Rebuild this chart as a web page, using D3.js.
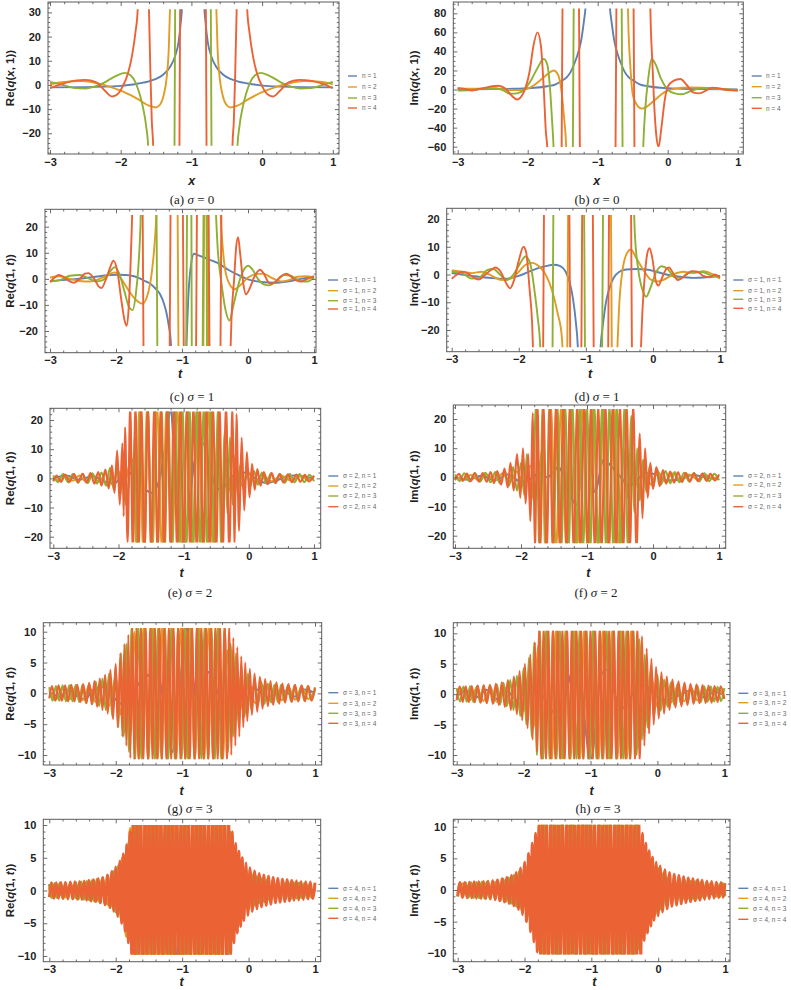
<!DOCTYPE html>
<html>
<head>
<meta charset="utf-8">
<script src="https://cdn.jsdelivr.net/npm/d3@7"></script>
<style>
  body { margin: 0; background: #fff; }
  svg { display: block; }
</style>
</head>
<body>
<svg id="fig" width="791" height="990"></svg>
<script>
// ---- data: [t, value], null = curve leaves the plot range ----

// (a) Re q(x,1), sigma = 0
const aN1 = [[-3,-1],[-2.5,-0.9],[-2,-0.4],[-1.75,0.6],[-1.6,1.5],[-1.5,2.5],[-1.4,4.2],[-1.3,7.5],[-1.23,12],[-1.18,18],[-1.15,26],[-1.13,34],[-1.11,60],null,[-0.84,60],[-0.82,34],[-0.8,26],[-0.77,18],[-0.72,12],[-0.65,7.5],[-0.55,4.2],[-0.45,2.5],[-0.35,1.5],[-0.2,0.6],[0.05,-0.4],[0.55,-0.9],[1,-1]];
const aN2 = [[-3,0.3],[-2.8,1.2],[-2.55,1.6],[-2.35,0.8],[-2.15,-0.8],[-1.95,-3],[-1.75,-6],[-1.6,-8.6],[-1.5,-9.3],[-1.44,-8],[-1.39,-4],[-1.35,3],[-1.32,15],[-1.3,34],[-1.28,60],null,[-0.67,60],[-0.65,34],[-0.63,15],[-0.6,3],[-0.56,-4],[-0.51,-8],[-0.45,-9.3],[-0.35,-8.6],[-0.2,-6],[0,-3],[0.2,-0.8],[0.4,0.8],[0.6,1.6],[0.85,1.2],[1,0.3]];
const aN3 = [[-3,1.2],[-2.85,0.3],[-2.65,-1.3],[-2.5,-1.5],[-2.35,-0.5],[-2.2,1.5],[-2.05,4],[-1.94,5],[-1.86,4],[-1.79,1],[-1.73,-4],[-1.68,-10],[-1.64,-17],[-1.61,-26],[-1.59,-60],null,[-1.245,-60],[-1.225,60],null,[-0.73,60],[-0.71,-60],null,[-0.37,-60],[-0.35,-26],[-0.32,-17],[-0.28,-10],[-0.23,-4],[-0.17,1],[-0.1,4],[-0.02,5],[0.09,4],[0.24,1.5],[0.39,-0.5],[0.54,-1.5],[0.69,-1.3],[0.89,0.3],[1,1.2]];
const aN4 = [[-3,-1.3],[-2.85,0.2],[-2.65,1.8],[-2.5,2.1],[-2.35,1.2],[-2.22,-2.5],[-2.12,-4.8],[-2.05,-4],[-1.97,-0.5],[-1.9,4.5],[-1.84,12],[-1.79,22],[-1.76,31],[-1.74,60],null,[-1.62,60],[-1.6,31],[-1.58,5],[-1.56,-15],[-1.54,-26],[-1.53,-60],null,[-1.175,-60],[-1.155,60],null,[-0.8,60],[-0.78,-60],null,[-0.43,-60],[-0.42,-26],[-0.4,-15],[-0.38,5],[-0.36,31],[-0.34,60],null,[-0.23,60],[-0.21,31],[-0.18,22],[-0.13,12],[-0.07,4.5],[0,-0.5],[0.08,-4],[0.15,-4.8],[0.25,-2.5],[0.38,1.2],[0.53,2.1],[0.68,1.8],[0.88,0.2],[1,-1.3]];

// (b) Im q(x,1), sigma = 0
const bN1 = [[-3,0.2],[-2.5,0.4],[-2.2,0.8],[-1.9,1.8],[-1.72,3.5],[-1.6,5.5],[-1.53,8.5],[-1.44,13],[-1.39,18],[-1.34,26],[-1.29,36],[-1.24,50],[-1.2,70],[-1.17,90],[-1.15,120],null,[-0.85,120],[-0.83,90],[-0.8,70],[-0.76,50],[-0.71,36],[-0.66,26],[-0.61,18],[-0.56,13],[-0.47,8.5],[-0.4,5.5],[-0.28,3.5],[-0.1,1.8],[0.2,0.8],[0.5,0.4],[1,0.2]];
const bN2 = [[-3,1.5],[-2.8,0.8],[-2.6,1.2],[-2.4,0.5],[-2.25,-0.5],[-2.1,-0.5],[-2,1],[-1.9,5],[-1.8,11],[-1.7,17],[-1.63,20],[-1.57,16],[-1.52,0],[-1.48,-30],[-1.45,-62],[-1.43,-120],null,[-0.58,120],[-0.56,62],[-0.53,20],[-0.5,-5],[-0.45,-15],[-0.37,-20],[-0.3,-18],[-0.2,-12],[-0.05,-3],[0.1,1],[0.3,2.2],[0.5,2],[0.7,0.8],[0.85,0],[1,-0.5]];
const bN3 = [[-3,-1],[-2.8,-0.5],[-2.6,1.2],[-2.45,1.5],[-2.35,-1],[-2.25,-4.5],[-2.15,-4],[-2.05,0],[-1.95,10],[-1.85,24],[-1.77,32],[-1.72,26],[-1.68,0],[-1.65,-35],[-1.63,-62],[-1.61,-120],null,[-1.36,-120],[-1.34,120],null,[-0.66,120],[-0.64,-120],null,[-0.37,-120],[-0.35,-62],[-0.32,-20],[-0.28,10],[-0.23,32],[-0.17,26],[-0.1,12],[0,0],[0.1,-4],[0.2,-5],[0.32,-2],[0.45,1],[0.6,1.5],[0.75,0.5],[1,-1]];
const bN4 = [[-3,1.5],[-2.9,0.5],[-2.8,-1],[-2.7,0.5],[-2.6,2],[-2.5,3.5],[-2.42,4],[-2.32,1],[-2.22,-7],[-2.15,-10.5],[-2.08,-6],[-2.03,2],[-1.97,20],[-1.92,45],[-1.86,60],[-1.81,45],[-1.77,0],[-1.74,-45],[-1.72,-62],[-1.7,-120],null,[-1.52,-120],[-1.5,120],null,[-1.27,120],[-1.25,-120],null,[-0.75,-120],[-0.73,120],null,[-0.49,120],[-0.47,-120],null,[-0.26,120],[-0.24,62],[-0.22,30],[-0.19,-20],[-0.16,-50],[-0.13,-60],[-0.09,-40],[-0.04,-10],[0,3],[0.08,9],[0.18,11],[0.27,5],[0.36,-3],[0.45,-4],[0.55,-1],[0.63,2],[0.72,1.5],[0.85,-0.5],[1,-1]];

// (c) Re q(1,t), sigma = 1
const cN1 = [[-3,-0.8],[-2.7,-0.3],[-2.4,0.5],[-2.2,1.2],[-2,1.6],[-1.85,1.5],[-1.74,1.1],[-1.64,0.2],[-1.55,-1],[-1.48,-1.9],[-1.4,-3.8],[-1.33,-6],[-1.28,-9],[-1.24,-12.5],[-1.2,-18],[-1.17,-24],[-1.15,-40],null,[-0.95,-40],[-0.93,-24],[-0.9,-5],[-0.86,6],[-0.82,9.6],[-0.75,9],[-0.6,7.5],[-0.47,6.2],[-0.3,3.5],[-0.15,1.5],[0,-0.2],[0.2,-1.2],[0.4,-1.5],[0.6,-1],[0.8,0],[1,0.8]];
const cN2 = [[-3,0.5],[-2.85,1],[-2.7,0],[-2.55,-0.8],[-2.4,-1],[-2.25,0],[-2.12,1.5],[-2.02,2.5],[-1.92,0],[-1.82,-4],[-1.7,-8],[-1.6,-9.5],[-1.52,-6],[-1.46,2],[-1.42,12],[-1.39,24],[-1.37,40],null,[-1.07,40],[-1.05,-40],null,[-0.68,-40],[-0.66,40],null,[-0.61,40],[-0.6,-40],null,[-0.44,40],[-0.4,18],[-0.36,6],[-0.3,-1],[-0.2,-4],[-0.12,-2.5],[0,0.5],[0.12,1.8],[0.23,2],[0.35,0.5],[0.5,-1],[0.62,-0.5],[0.75,0.8],[0.88,1],[1,0.5]];
const cN3 = [[-3,-1],[-2.85,-0.5],[-2.7,1.2],[-2.55,1.5],[-2.4,0],[-2.3,-1],[-2.2,-0.5],[-2.1,2.5],[-2.02,4.5],[-1.95,2],[-1.87,-5],[-1.8,-11],[-1.75,-12],[-1.7,-6],[-1.66,5],[-1.63,20],[-1.61,40],null,[-1.39,40],[-1.37,-40],null,[-0.94,-40],[-0.92,40],null,[-0.86,40],[-0.85,-40],null,[-0.69,-40],[-0.67,40],null,[-0.63,40],[-0.62,-40],null,[-0.51,40],[-0.46,12],[-0.4,-2],[-0.34,-12],[-0.28,-16],[-0.22,-10],[-0.12,0],[-0.05,4],[0,5],[0.07,3.5],[0.15,0],[0.25,-2.2],[0.32,-2.5],[0.42,-1],[0.55,1.5],[0.65,1.2],[0.78,-0.8],[0.9,-1],[1,0.5]];
const cN4 = [[-3,-1.2],[-2.93,0.5],[-2.87,1.5],[-2.78,0.5],[-2.7,-1],[-2.64,-1.5],[-2.55,0],[-2.47,2],[-2.42,2.2],[-2.33,0],[-2.26,-3],[-2.22,-3.5],[-2.15,0],[-2.08,5],[-2.04,7],[-1.98,3],[-1.92,-8],[-1.87,-16],[-1.84,-18],[-1.81,-12],[-1.78,5],[-1.76,20],[-1.74,40],null,[-1.6,40],[-1.58,-40],null,[-1.19,-40],[-1.17,40],null,[-0.99,40],[-0.97,-40],null,[-0.79,-40],[-0.77,40],null,[-0.6,40],[-0.58,-40],null,[-0.42,-40],[-0.4,40],null,[-0.28,-40],[-0.25,-15],[-0.21,0],[-0.18,12],[-0.15,16],[-0.12,10],[-0.07,-2],[-0.03,-6],[0.02,-4],[0.1,1],[0.18,3.5],[0.24,2],[0.3,-1],[0.35,-2],[0.42,-1],[0.5,1],[0.58,2],[0.65,1],[0.72,-0.5],[0.8,-1],[0.9,0],[1,1]];

// (d) Im q(1,t), sigma = 1
const dN1 = [[-3,0.5],[-2.7,-0.5],[-2.4,-1.3],[-2.2,-1.5],[-2,-0.5],[-1.8,1.5],[-1.6,3],[-1.48,3.5],[-1.38,3],[-1.3,1],[-1.24,-3],[-1.19,-9],[-1.15,-17],[-1.12,-26],[-1.1,-40],null,[-0.81,-40],[-0.78,-26],[-0.74,-17],[-0.7,-10],[-0.65,-5],[-0.58,-1],[-0.5,1],[-0.4,1.8],[-0.25,2],[-0.1,1.8],[0.05,1],[0.2,0],[0.4,-0.8],[0.6,-1.2],[0.8,-1],[1,-0.5]];
const dN2 = [[-3,1.5],[-2.85,1],[-2.7,0.5],[-2.55,1],[-2.4,-0.5],[-2.25,-2],[-2.12,-1.5],[-2,1],[-1.9,3.5],[-1.8,4.2],[-1.7,3],[-1.6,0],[-1.5,-6],[-1.42,-14],[-1.36,-22],[-1.32,-40],null,[-1.28,-40],[-1.26,40],null,[-0.63,40],[-0.61,-40],null,[-0.55,-40],[-0.5,-10],[-0.45,2],[-0.38,8],[-0.33,9],[-0.25,6],[-0.15,2],[-0.05,-1.5],[0.05,-2.5],[0.15,-2],[0.3,0],[0.45,1],[0.6,0.5],[0.75,1.2],[0.9,0],[1,-1.5]];
const dN3 = [[-3,1],[-2.85,0.5],[-2.7,-1.5],[-2.58,-1],[-2.48,1.5],[-2.38,2],[-2.28,0],[-2.18,-2],[-2.08,0],[-1.98,4],[-1.9,6.5],[-1.83,4],[-1.77,-5],[-1.72,-15],[-1.68,-26],[-1.66,-40],null,[-1.5,-40],[-1.48,40],null,[-1.03,40],[-1.01,-40],null,[-0.76,-40],[-0.74,40],null,[-0.3,40],[-0.27,15],[-0.22,2],[-0.15,-6],[-0.1,-8],[-0.04,-5],[0.05,1],[0.13,3],[0.22,2],[0.32,-1],[0.42,-1.2],[0.52,0.5],[0.62,1],[0.75,0.8],[0.88,-0.5],[1,-1]];
const dN4 = [[-3,-1.5],[-2.92,0],[-2.85,1],[-2.77,0.5],[-2.68,-1],[-2.6,-1.8],[-2.52,-0.5],[-2.42,1.5],[-2.35,2.5],[-2.27,1],[-2.18,-3.5],[-2.13,-5],[-2.07,-2],[-2,5],[-1.93,10],[-1.89,8],[-1.84,-5],[-1.8,-18],[-1.77,-40],null,[-1.64,-40],[-1.62,40],null,[-1.25,40],[-1.23,-40],null,[-1.07,-40],[-1.05,40],null,[-0.9,40],[-0.88,-40],null,[-0.67,-40],[-0.65,40],null,[-0.33,40],[-0.31,-40],null,[-0.2,-40],[-0.16,-15],[-0.12,0],[-0.08,8],[-0.05,9.5],[-0.01,6],[0.04,-2],[0.08,-4],[0.14,-1],[0.2,2],[0.24,2.5],[0.3,0.5],[0.37,-2],[0.42,-1.5],[0.5,0],[0.58,1.2],[0.66,1],[0.75,-0.5],[0.85,-1],[0.92,0],[1,-1]];

// (e) Re q(1,t), sigma = 2
const eN1 = [[-3,0],[-2.8,1],[-2.6,-0.5],[-2.4,0.8],[-2.2,-1.2],[-2.05,-1.5],[-1.9,2.5],[-1.75,0.5],[-1.6,-3.5],[-1.49,-5],[-1.38,-1],[-1.3,8],[-1.24,18],[-1.2,25],[-1.15,10],[-1.08,-10],[-1,-25],[-0.92,-10],[-0.84,5],[-0.76,11],[-0.7,12],[-0.62,6],[-0.52,-2],[-0.42,-4],[-0.32,-1],[-0.2,1.5],[-0.05,2],[0.1,0],[0.25,-1.5],[0.4,-1],[0.55,0.5],[0.7,1],[0.85,0.5],[1,0]];
const eN2 = [[-3,0.5],[-2.9,-0.8],[-2.8,0.8],[-2.7,-0.8],[-2.6,1],[-2.5,-1],[-2.4,1],[-2.3,-1.2],[-2.2,1.5],[-2.1,-2],[-2,2.5],[-1.92,-3],[-1.84,4],[-1.78,6.5],[-1.72,-25],[-1.68,25],[-1.62,-25],[-1.56,25],[-1.48,-25],[-1.41,25],[-1.33,-25],[-1.26,25],[-1.18,-25],[-1.1,25],[-1.02,-25],[-0.94,25],[-0.86,-25],[-0.78,25],[-0.7,-25],[-0.62,25],[-0.55,-25],[-0.48,14],[-0.42,-10],[-0.35,7],[-0.28,-5],[-0.2,3.5],[-0.1,-2.5],[0,2],[0.1,-1.5],[0.2,1.2],[0.35,-1],[0.5,1],[0.65,-0.8],[0.8,0.8],[0.9,-0.5],[1,0.5]];
const eN3 = [[-3,1],[-2.93,-1.3],[-2.85,1.5],[-2.77,-1.4],[-2.7,1.5],[-2.62,-1.5],[-2.55,1.5],[-2.47,-1.6],[-2.4,1.7],[-2.33,-1.8],[-2.26,2],[-2.19,-2.5],[-2.13,3.5],[-2.07,-4],[-2.02,5],[-1.97,-6],[-1.93,7],[-1.89,-9],[-1.85,-3],[-1.81,12],[-1.78,-10],[-1.75,16],[-1.71,-25],[-1.66,25],[-1.6,-25],[-1.55,25],[-1.49,-25],[-1.44,25],[-1.4,-25],[-1.34,25],[-1.29,-25],[-1.24,25],[-1.18,-25],[-1.13,25],[-1.07,-25],[-1.02,25],[-0.96,-25],[-0.91,25],[-0.86,-25],[-0.8,25],[-0.75,-25],[-0.69,25],[-0.64,-25],[-0.58,25],[-0.53,-25],[-0.47,25],[-0.42,-25],[-0.37,16],[-0.33,-12],[-0.29,14],[-0.25,-9],[-0.21,8],[-0.17,-6],[-0.13,5],[-0.08,-4],[-0.03,3.5],[0.02,-3],[0.08,2.5],[0.14,-2.2],[0.2,2],[0.27,-1.8],[0.34,1.7],[0.41,-1.6],[0.48,1.5],[0.55,-1.5],[0.63,1.5],[0.7,-1.4],[0.78,1.5],[0.85,-1.3],[0.93,1.2],[1,-1]];
const eN4 = [[-3,-1],[-2.95,1],[-2.88,-1.2],[-2.82,1.3],[-2.75,-1.2],[-2.68,1.5],[-2.62,-1.3],[-2.55,1.6],[-2.49,-1.5],[-2.43,1.8],[-2.37,-1.8],[-2.31,2.2],[-2.26,-2.5],[-2.2,3],[-2.15,-3.5],[-2.1,4.5],[-2.06,-5],[-2.02,9.5],[-1.98,-9],[-1.94,12],[-1.92,-13],[-1.9,17.5],[-1.86,-22],[-1.82,25],[-1.78,-25],[-1.74,25],[-1.69,-25],[-1.65,25],[-1.6,-25],[-1.55,25],[-1.5,-25],[-1.45,25],[-1.4,-25],[-1.35,25],[-1.3,-25],[-1.25,25],[-1.2,-25],[-1.15,25],[-1.1,-25],[-1.05,25],[-1,-25],[-0.95,25],[-0.9,-25],[-0.85,25],[-0.8,-25],[-0.75,25],[-0.7,-25],[-0.65,25],[-0.6,-25],[-0.55,25],[-0.5,-25],[-0.45,25],[-0.4,-25],[-0.35,25],[-0.3,-25],[-0.25,25],[-0.22,-25],[-0.19,22],[-0.15,-18],[-0.11,14],[-0.07,-11],[-0.03,9],[0.01,-6.5],[0.05,5],[0.09,-4],[0.13,3.2],[0.18,-2.5],[0.23,2.2],[0.29,-2],[0.35,1.8],[0.41,-1.6],[0.47,1.5],[0.53,-1.4],[0.6,1.4],[0.66,-1.3],[0.73,1.3],[0.79,-1.2],[0.86,1.2],[0.92,-1.1],[1,1]];

// (f) Im q(1,t), sigma = 2
const fN1 = [[-3,0],[-2.8,-0.8],[-2.6,0.5],[-2.4,-1],[-2.2,1],[-2,-1.5],[-1.85,-0.5],[-1.72,1.5],[-1.6,0],[-1.43,3.5],[-1.3,-3],[-1.16,-9.5],[-1.08,5],[-1.02,22],[-0.96,10],[-0.88,-5],[-0.75,6],[-0.6,3],[-0.45,-1],[-0.37,-3],[-0.25,-1],[-0.1,1.5],[0.05,1],[0.2,-1],[0.4,-0.8],[0.6,0.8],[0.8,0],[1,-0.5]];
const fN2 = [[-3,0.5],[-2.88,-0.8],[-2.76,0.8],[-2.64,-1],[-2.52,1],[-2.4,-1.2],[-2.28,1.3],[-2.17,-1.6],[-2.06,2],[-1.96,-3],[-1.86,4],[-1.76,-5],[-1.68,9.5],[-1.63,-25],[-1.55,25],[-1.47,-25],[-1.39,25],[-1.31,-25],[-1.23,25],[-1.15,-25],[-1.07,25],[-0.99,-25],[-0.91,25],[-0.83,-25],[-0.75,25],[-0.67,-25],[-0.59,25],[-0.52,-25],[-0.45,10],[-0.38,-7],[-0.3,5],[-0.22,-4],[-0.13,3],[-0.03,-2.5],[0.07,2],[0.18,-1.5],[0.3,1.3],[0.42,-1],[0.55,1],[0.68,-0.8],[0.8,0.8],[0.9,-0.5],[1,0.5]];
const fN3 = [[-3,1],[-2.93,-1.3],[-2.86,1.4],[-2.78,-1.4],[-2.7,1.5],[-2.62,-1.5],[-2.54,1.6],[-2.46,-1.7],[-2.39,1.8],[-2.32,-2],[-2.25,2.3],[-2.18,-2.8],[-2.12,3.5],[-2.06,-4.5],[-2,5],[-1.95,-6],[-1.91,8],[-1.86,-9],[-1.82,-4],[-1.77,25],[-1.72,-25],[-1.67,25],[-1.62,-25],[-1.57,25],[-1.51,-25],[-1.45,25],[-1.39,-25],[-1.33,25],[-1.28,-25],[-1.22,25],[-1.17,-25],[-1.11,25],[-1.06,-25],[-1,25],[-0.95,-25],[-0.89,25],[-0.83,-25],[-0.77,25],[-0.71,-25],[-0.66,25],[-0.6,-25],[-0.55,25],[-0.49,-25],[-0.43,25],[-0.38,-25],[-0.33,21],[-0.28,-12],[-0.24,10],[-0.2,-8],[-0.15,6],[-0.1,-5],[-0.05,4],[0,-3.5],[0.06,3],[0.12,-2.5],[0.19,2.2],[0.26,-2],[0.33,1.8],[0.4,-1.7],[0.47,1.6],[0.55,-1.5],[0.62,1.5],[0.7,-1.4],[0.78,1.4],[0.85,-1.3],[0.93,1.2],[1,-1]];
const fN4 = [[-3,-1],[-2.94,1.2],[-2.88,-1.2],[-2.82,1.3],[-2.76,-1.3],[-2.7,1.4],[-2.64,-1.4],[-2.58,1.5],[-2.52,-1.5],[-2.46,1.8],[-2.41,-2],[-2.36,2.2],[-2.3,-2.5],[-2.25,3],[-2.2,-3.5],[-2.16,5],[-2.11,-4.5],[-2.06,8],[-2.01,-7],[-1.97,10],[-1.93,-9],[-1.89,8],[-1.86,-15],[-1.82,22],[-1.79,-25],[-1.75,25],[-1.71,-25],[-1.66,25],[-1.61,-25],[-1.56,25],[-1.52,-25],[-1.47,25],[-1.41,-25],[-1.36,25],[-1.31,-25],[-1.26,25],[-1.2,-25],[-1.15,25],[-1.1,-25],[-1.04,25],[-0.99,-25],[-0.94,25],[-0.88,-25],[-0.83,25],[-0.78,-25],[-0.72,25],[-0.67,-25],[-0.61,25],[-0.56,-25],[-0.5,25],[-0.45,-25],[-0.4,25],[-0.35,-25],[-0.3,25],[-0.25,-25],[-0.2,15],[-0.16,-14],[-0.12,10],[-0.08,-7],[-0.04,5],[0,-4],[0.05,3.5],[0.1,-3],[0.15,2.5],[0.2,-2.2],[0.26,2],[0.32,-1.8],[0.38,1.7],[0.44,-1.6],[0.5,1.5],[0.56,-1.4],[0.62,1.4],[0.68,-1.3],[0.75,1.3],[0.81,-1.2],[0.87,1.2],[0.94,-1.1],[1,1]];

// (g) Re q(1,t), sigma = 3
const gN1 = [[-3,0.3],[-2.85,-0.5],[-2.7,0.5],[-2.55,-0.7],[-2.46,-1],[-2.35,0.5],[-2.2,1],[-2.05,-0.5],[-1.95,-1.5],[-1.86,-2],[-1.75,0],[-1.62,2],[-1.5,3],[-1.38,3.5],[-1.3,0],[-1.22,-6],[-1.15,-9.5],[-1.08,-5],[-1,5],[-0.92,11],[-0.85,4],[-0.75,-3],[-0.67,0],[-0.6,3.5],[-0.5,1],[-0.4,-1],[-0.28,-1.5],[-0.15,-0.5],[0,1],[0.15,0.5],[0.3,-0.8],[0.5,0.5],[0.7,-0.5],[0.85,0.6],[1,0]];
const gN2 = [[-3,0.5],[-2.9,-1],[-2.8,1],[-2.7,-1],[-2.6,1.1],[-2.5,-1.1],[-2.4,1.2],[-2.3,-1.4],[-2.2,1.6],[-2.1,-2],[-2,2.6],[-1.92,-3.5],[-1.85,5],[-1.78,-7],[-1.72,10],[-1.65,-11],[-1.58,11],[-1.51,-11],[-1.44,11],[-1.37,-11],[-1.3,11],[-1.23,-11],[-1.16,11],[-1.09,-11],[-1.02,11],[-0.95,-11],[-0.88,11],[-0.81,-11],[-0.74,11],[-0.67,-11],[-0.6,11],[-0.53,-11],[-0.46,11],[-0.39,-11],[-0.32,7],[-0.25,-5],[-0.17,3.5],[-0.09,-2.6],[0,2],[0.1,-1.6],[0.2,1.4],[0.3,-1.2],[0.4,1.1],[0.5,-1.1],[0.6,1],[0.7,-1],[0.8,1],[0.9,-0.9],[1,0.5]];
const gN3 = [[-3,1],[-2.95,-1.2],[-2.9,1.2],[-2.85,-1.2],[-2.8,1.3],[-2.75,-1.3],[-2.7,1.3],[-2.65,-1.3],[-2.6,1.4],[-2.55,-1.4],[-2.5,1.4],[-2.45,-1.5],[-2.4,1.6],[-2.35,-1.7],[-2.3,1.9],[-2.25,-2.1],[-2.2,2.4],[-2.15,-2.7],[-2.1,3.2],[-2.05,-3.8],[-2,4.5],[-1.96,-5.5],[-1.92,6.5],[-1.88,-7],[-1.84,8],[-1.8,-9.5],[-1.76,11],[-1.71,-11],[-1.66,11],[-1.61,-11],[-1.56,11],[-1.51,-11],[-1.46,11],[-1.41,-11],[-1.36,11],[-1.31,-11],[-1.26,11],[-1.21,-11],[-1.16,11],[-1.11,-11],[-1.06,11],[-1.01,-11],[-0.96,11],[-0.91,-11],[-0.86,11],[-0.81,-11],[-0.76,11],[-0.71,-11],[-0.66,11],[-0.61,-11],[-0.56,11],[-0.51,-11],[-0.46,11],[-0.41,-11],[-0.36,11],[-0.31,-9.5],[-0.27,8],[-0.23,-7],[-0.19,6.5],[-0.15,-5.5],[-0.11,4.5],[-0.06,-3.8],[-0.01,3.2],[0.04,-2.7],[0.09,2.4],[0.14,-2.1],[0.19,1.9],[0.24,-1.7],[0.29,1.6],[0.34,-1.5],[0.39,1.4],[0.44,-1.4],[0.49,1.4],[0.54,-1.3],[0.59,1.3],[0.64,-1.3],[0.69,1.3],[0.74,-1.2],[0.79,1.2],[0.84,-1.2],[0.89,1.2],[0.94,-1.1],[1,1]];
const gN4 = [[-3,-0.8],[-2.96,1.2],[-2.91,-1.2],[-2.86,1.3],[-2.81,-1.2],[-2.76,1.3],[-2.72,-1.3],[-2.67,1.4],[-2.62,-1.3],[-2.58,1.4],[-2.53,-1.4],[-2.49,1.5],[-2.44,-1.6],[-2.4,1.7],[-2.36,-1.8],[-2.32,2],[-2.28,-2.2],[-2.24,2.4],[-2.2,-2.7],[-2.16,3],[-2.12,-3.3],[-2.08,3.8],[-2.04,-4.2],[-2,4.8],[-1.97,-5.5],[-1.93,6.5],[-1.9,-7],[-1.87,8],[-1.84,-8.5],[-1.81,9.5],[-1.78,-10.5],[-1.75,11],[-1.72,-11],[-1.69,11],[-1.655,-11],[-1.62,11],[-1.585,-11],[-1.55,11],[-1.515,-11],[-1.48,11],[-1.445,-11],[-1.41,11],[-1.375,-11],[-1.34,11],[-1.305,-11],[-1.27,11],[-1.235,-11],[-1.2,11],[-1.165,-11],[-1.13,11],[-1.095,-11],[-1.06,11],[-1.025,-11],[-0.99,11],[-0.955,-11],[-0.92,11],[-0.885,-11],[-0.85,11],[-0.815,-11],[-0.78,11],[-0.745,-11],[-0.71,11],[-0.675,-11],[-0.64,11],[-0.605,-11],[-0.57,11],[-0.535,-11],[-0.5,11],[-0.465,-11],[-0.43,11],[-0.395,-11],[-0.36,11],[-0.325,-11],[-0.29,11],[-0.26,-10],[-0.23,9],[-0.2,-8.5],[-0.17,7.5],[-0.14,-7],[-0.11,6],[-0.08,-5.5],[-0.05,5],[-0.02,-4.5],[0.02,4],[0.05,-3.5],[0.09,3.2],[0.13,-3],[0.17,2.7],[0.21,-2.5],[0.25,2.3],[0.29,-2.1],[0.33,2],[0.37,-1.9],[0.42,1.8],[0.46,-1.7],[0.51,1.6],[0.55,-1.5],[0.6,1.5],[0.65,-1.4],[0.7,1.4],[0.75,-1.3],[0.8,1.3],[0.85,-1.3],[0.9,1.2],[0.95,-1.2],[1,0.8]];

// (h) Im q(1,t), sigma = 3
const hN1 = [[-3,-0.3],[-2.85,0.5],[-2.7,-0.5],[-2.55,0.7],[-2.4,-0.8],[-2.25,0.5],[-2.1,-1],[-1.98,0.5],[-1.88,1.8],[-1.76,0.5],[-1.62,-2],[-1.5,-3.5],[-1.4,-1],[-1.3,3],[-1.22,6],[-1.15,3],[-1.08,-5],[-1,-11],[-0.92,-5],[-0.85,3],[-0.75,4],[-0.65,0.5],[-0.55,-2.5],[-0.45,-1.5],[-0.32,1],[-0.2,1.5],[-0.05,0],[0.1,-1],[0.3,-0.3],[0.5,0.6],[0.7,-0.5],[0.85,0.4],[1,-0.2]];
const hN2 = [[-3,-0.5],[-2.9,1],[-2.8,-1],[-2.7,1.05],[-2.6,-1.1],[-2.5,1.15],[-2.4,-1.25],[-2.3,1.4],[-2.2,-1.7],[-2.1,2.1],[-2,-2.8],[-1.92,3.8],[-1.85,-5.5],[-1.78,8],[-1.72,-11],[-1.65,11],[-1.58,-11],[-1.51,11],[-1.44,-11],[-1.37,11],[-1.3,-11],[-1.23,11],[-1.16,-11],[-1.09,11],[-1.02,-11],[-0.95,11],[-0.88,-11],[-0.81,11],[-0.74,-11],[-0.67,11],[-0.6,-11],[-0.53,11],[-0.46,-11],[-0.39,11],[-0.32,-8],[-0.25,5.5],[-0.17,-3.8],[-0.09,2.8],[0,-2.1],[0.1,1.7],[0.2,-1.4],[0.3,1.25],[0.4,-1.15],[0.5,1.1],[0.6,-1.05],[0.7,1],[0.8,-1],[0.9,0.9],[1,-0.5]];
const hN3 = [[-3,1],[-2.95,-1.2],[-2.9,1.25],[-2.85,-1.25],[-2.8,1.3],[-2.75,-1.3],[-2.7,1.3],[-2.65,-1.35],[-2.6,1.4],[-2.55,-1.4],[-2.5,1.45],[-2.45,-1.5],[-2.4,1.6],[-2.35,-1.7],[-2.3,1.85],[-2.25,-2],[-2.2,2.3],[-2.15,-2.6],[-2.1,3],[-2.05,-3.6],[-2,4.3],[-1.96,-5],[-1.92,6],[-1.88,-7],[-1.84,8.5],[-1.8,-10],[-1.76,11],[-1.71,-11],[-1.66,11],[-1.61,-11],[-1.56,11],[-1.51,-11],[-1.46,11],[-1.41,-11],[-1.36,11],[-1.31,-11],[-1.26,11],[-1.21,-11],[-1.16,11],[-1.11,-11],[-1.06,11],[-1.01,-11],[-0.96,11],[-0.91,-11],[-0.86,11],[-0.81,-11],[-0.76,11],[-0.71,-11],[-0.66,11],[-0.61,-11],[-0.56,11],[-0.51,-11],[-0.46,11],[-0.41,-11],[-0.36,11],[-0.31,-10],[-0.27,9],[-0.23,-7.5],[-0.19,6.5],[-0.15,-5.5],[-0.1,4.6],[-0.05,-3.8],[0,3.2],[0.05,-2.7],[0.1,2.4],[0.15,-2.1],[0.2,1.9],[0.25,-1.75],[0.3,1.65],[0.35,-1.55],[0.4,1.5],[0.45,-1.45],[0.5,1.4],[0.55,-1.35],[0.6,1.35],[0.65,-1.3],[0.7,1.3],[0.75,-1.25],[0.8,1.25],[0.85,-1.2],[0.9,1.2],[0.95,-1.15],[1,1]];
const hN4 = [[-3,-1],[-2.955,1.3],[-2.91,-1.3],[-2.865,1.3],[-2.82,-1.3],[-2.775,1.35],[-2.73,-1.35],[-2.685,1.4],[-2.64,-1.4],[-2.595,1.45],[-2.55,-1.5],[-2.505,1.55],[-2.46,-1.6],[-2.415,1.7],[-2.37,-1.8],[-2.325,1.95],[-2.28,-2.1],[-2.235,2.3],[-2.19,-2.6],[-2.145,2.9],[-2.1,-3.3],[-2.06,3.8],[-2.02,-4.3],[-1.98,5],[-1.94,-5.6],[-1.9,6.5],[-1.865,-7.5],[-1.83,8.5],[-1.8,-9.5],[-1.77,11],[-1.735,-11],[-1.7,11],[-1.665,-11],[-1.63,11],[-1.595,-11],[-1.56,11],[-1.525,-11],[-1.49,11],[-1.455,-11],[-1.42,11],[-1.385,-11],[-1.35,11],[-1.315,-11],[-1.28,11],[-1.245,-11],[-1.21,11],[-1.175,-11],[-1.14,11],[-1.105,-11],[-1.07,11],[-1.035,-11],[-1,11],[-0.965,-11],[-0.93,11],[-0.895,-11],[-0.86,11],[-0.825,-11],[-0.79,11],[-0.755,-11],[-0.72,11],[-0.685,-11],[-0.65,11],[-0.615,-11],[-0.58,11],[-0.545,-11],[-0.51,11],[-0.475,-11],[-0.44,11],[-0.405,-11],[-0.37,11],[-0.335,-11],[-0.3,11],[-0.265,-11],[-0.23,9.5],[-0.195,-8.5],[-0.16,7.5],[-0.125,-6.5],[-0.09,5.8],[-0.055,-5],[-0.02,4.5],[0.02,-4],[0.06,3.6],[0.1,-3.2],[0.14,2.9],[0.18,-2.6],[0.225,2.4],[0.27,-2.2],[0.315,2.1],[0.36,-2],[0.405,1.9],[0.45,-1.8],[0.495,1.7],[0.54,-1.6],[0.585,1.6],[0.63,-1.5],[0.675,1.5],[0.72,-1.45],[0.765,1.4],[0.81,-1.4],[0.855,1.35],[0.9,-1.3],[0.945,1.3],[1,-0.8]];

// (i) Re q(1,t), sigma = 4
const iN1 = [[-3,0.2],[-2.8,-0.6],[-2.6,0.6],[-2.4,-0.7],[-2.2,0.8],[-2,-1],[-1.85,1.5],[-1.7,-2],[-1.55,3],[-1.4,-5],[-1.25,8],[-1.1,-11],[-0.95,11],[-0.8,-8],[-0.65,5],[-0.5,-3],[-0.35,2],[-0.2,-1.5],[0,1],[0.2,-0.8],[0.4,0.7],[0.6,-0.6],[0.8,0.6],[1,-0.2]];
const iN2 = [[-3,0.5],[-2.92,-1],[-2.84,1],[-2.76,-1],[-2.68,1.05],[-2.6,-1.1],[-2.52,1.1],[-2.44,-1.2],[-2.36,1.3],[-2.28,-1.5],[-2.2,1.7],[-2.12,-2.1],[-2.04,2.7],[-1.97,-3.6],[-1.9,5],[-1.84,-7],[-1.78,9.5],[-1.72,-11],[-1.65,11],[-1.58,-11],[-1.51,11],[-1.44,-11],[-1.37,11],[-1.3,-11],[-1.23,11],[-1.16,-11],[-1.09,11],[-1.02,-11],[-0.95,11],[-0.88,-11],[-0.81,11],[-0.74,-11],[-0.67,11],[-0.6,-11],[-0.53,11],[-0.46,-11],[-0.39,11],[-0.32,-11],[-0.25,7],[-0.18,-5],[-0.1,3.6],[-0.02,-2.7],[0.06,2.1],[0.14,-1.7],[0.22,1.5],[0.3,-1.3],[0.38,1.2],[0.46,-1.1],[0.54,1.1],[0.62,-1.05],[0.7,1],[0.78,-1],[0.86,1],[0.94,-1],[1,0.5]];
const iN3 = [[-3,1],[-2.96,-1.1],[-2.92,1.1],[-2.88,-1.1],[-2.84,1.15],[-2.8,-1.15],[-2.76,1.2],[-2.72,-1.2],[-2.68,1.2],[-2.64,-1.25],[-2.6,1.25],[-2.56,-1.3],[-2.52,1.3],[-2.48,-1.35],[-2.44,1.4],[-2.4,-1.45],[-2.36,1.5],[-2.32,-1.6],[-2.28,1.7],[-2.24,-1.8],[-2.2,1.9],[-2.16,-2.1],[-2.12,2.3],[-2.08,-2.6],[-2.04,2.9],[-2,-3.3],[-1.96,3.8],[-1.92,-4.4],[-1.88,5.2],[-1.84,-6.2],[-1.8,7.5],[-1.76,-9],[-1.72,11],[-1.68,-11],[-1.64,11],[-1.6,-11],[-1.56,11],[-1.52,-11],[-1.48,11],[-1.44,-11],[-1.4,11],[-1.36,-11],[-1.32,11],[-1.28,-11],[-1.24,11],[-1.2,-11],[-1.16,11],[-1.12,-11],[-1.08,11],[-1.04,-11],[-1,11],[-0.96,-11],[-0.92,11],[-0.88,-11],[-0.84,11],[-0.8,-11],[-0.76,11],[-0.72,-11],[-0.68,11],[-0.64,-11],[-0.6,11],[-0.56,-11],[-0.52,11],[-0.48,-11],[-0.44,11],[-0.4,-11],[-0.36,11],[-0.32,-11],[-0.28,9],[-0.24,-7.5],[-0.2,6.2],[-0.16,-5.2],[-0.12,4.4],[-0.08,-3.8],[-0.04,3.3],[0,-2.9],[0.04,2.6],[0.08,-2.3],[0.12,2.1],[0.16,-1.9],[0.2,1.8],[0.24,-1.7],[0.28,1.6],[0.32,-1.5],[0.36,1.45],[0.4,-1.4],[0.44,1.35],[0.48,-1.3],[0.52,1.3],[0.56,-1.25],[0.6,1.25],[0.64,-1.2],[0.68,1.2],[0.72,-1.15],[0.76,1.15],[0.8,-1.1],[0.84,1.1],[0.88,-1.1],[0.92,1.05],[0.96,-1.05],[1,1]];
const iN4 = [[-3,-1],[-2.965,1.2],[-2.93,-1.2],[-2.895,1.2],[-2.86,-1.2],[-2.825,1.25],[-2.79,-1.25],[-2.755,1.25],[-2.72,-1.3],[-2.685,1.3],[-2.65,-1.3],[-2.615,1.35],[-2.58,-1.35],[-2.545,1.4],[-2.51,-1.4],[-2.475,1.45],[-2.44,-1.5],[-2.405,1.55],[-2.37,-1.6],[-2.335,1.65],[-2.3,-1.7],[-2.265,1.8],[-2.23,-1.9],[-2.195,2],[-2.16,-2.2],[-2.125,2.4],[-2.09,-2.6],[-2.06,2.9],[-2.03,-3.2],[-2,3.6],[-1.97,-4],[-1.94,4.5],[-1.91,-5],[-1.885,5.6],[-1.86,-6.2],[-1.835,7],[-1.81,-8],[-1.785,9],[-1.76,-10],[-1.74,11],[-1.71,-11],[-1.68,11],[-1.65,-11],[-1.62,11],[-1.59,-11],[-1.56,11],[-1.53,-11],[-1.5,11],[-1.47,-11],[-1.44,11],[-1.41,-11],[-1.38,11],[-1.35,-11],[-1.32,11],[-1.29,-11],[-1.26,11],[-1.23,-11],[-1.2,11],[-1.17,-11],[-1.14,11],[-1.11,-11],[-1.08,11],[-1.05,-11],[-1.02,11],[-0.99,-11],[-0.96,11],[-0.93,-11],[-0.9,11],[-0.87,-11],[-0.84,11],[-0.81,-11],[-0.78,11],[-0.75,-11],[-0.72,11],[-0.69,-11],[-0.66,11],[-0.63,-11],[-0.6,11],[-0.57,-11],[-0.54,11],[-0.51,-11],[-0.48,11],[-0.45,-11],[-0.42,11],[-0.39,-11],[-0.36,11],[-0.33,-11],[-0.3,11],[-0.27,-10],[-0.245,9],[-0.22,-8],[-0.195,7.2],[-0.17,-6.5],[-0.145,6],[-0.12,-5.5],[-0.095,5],[-0.07,-4.6],[-0.04,4.2],[-0.01,-3.8],[0.02,3.5],[0.055,-3.2],[0.09,3],[0.125,-2.8],[0.16,2.6],[0.195,-2.5],[0.23,2.4],[0.265,-2.3],[0.3,2.2],[0.335,-2.1],[0.37,2],[0.405,-1.9],[0.44,1.85],[0.475,-1.8],[0.51,1.75],[0.545,-1.7],[0.58,1.65],[0.615,-1.6],[0.65,1.55],[0.685,-1.5],[0.72,1.5],[0.755,-1.45],[0.79,1.4],[0.825,-1.4],[0.86,1.35],[0.895,-1.3],[0.93,1.3],[0.965,-1.25],[1,1.2]];

// (j) Im q(1,t), sigma = 4
const jN1 = [[-3,-0.2],[-2.8,0.6],[-2.6,-0.6],[-2.4,0.7],[-2.2,-0.8],[-2,1],[-1.85,-1.5],[-1.7,2],[-1.55,-3],[-1.4,5],[-1.25,-8],[-1.1,11],[-0.95,-11],[-0.8,8],[-0.65,-5],[-0.5,3],[-0.35,-2],[-0.2,1.5],[0,-1],[0.2,0.8],[0.4,-0.7],[0.6,0.6],[0.8,-0.6],[1,0.2]];
const jN2 = [[-3,-0.5],[-2.92,1],[-2.84,-1],[-2.76,1],[-2.68,-1.05],[-2.6,1.1],[-2.52,-1.1],[-2.44,1.2],[-2.36,-1.3],[-2.28,1.5],[-2.2,-1.7],[-2.12,2.1],[-2.04,-2.7],[-1.97,3.6],[-1.9,-5],[-1.84,7],[-1.78,-9.5],[-1.72,11],[-1.65,-11],[-1.58,11],[-1.51,-11],[-1.44,11],[-1.37,-11],[-1.3,11],[-1.23,-11],[-1.16,11],[-1.09,-11],[-1.02,11],[-0.95,-11],[-0.88,11],[-0.81,-11],[-0.74,11],[-0.67,-11],[-0.6,11],[-0.53,-11],[-0.46,11],[-0.39,-11],[-0.32,11],[-0.25,-7],[-0.18,5],[-0.1,-3.6],[-0.02,2.7],[0.06,-2.1],[0.14,1.7],[0.22,-1.5],[0.3,1.3],[0.38,-1.2],[0.46,1.1],[0.54,-1.1],[0.62,1.05],[0.7,-1],[0.78,1],[0.86,-1],[0.94,1],[1,-0.5]];
const jN3 = [[-3,-1],[-2.96,1.1],[-2.92,-1.1],[-2.88,1.15],[-2.84,-1.15],[-2.8,1.15],[-2.76,-1.2],[-2.72,1.2],[-2.68,-1.25],[-2.64,1.25],[-2.6,-1.3],[-2.56,1.3],[-2.52,-1.35],[-2.48,1.4],[-2.44,-1.45],[-2.4,1.5],[-2.36,-1.6],[-2.32,1.7],[-2.28,-1.8],[-2.24,1.9],[-2.2,-2.1],[-2.16,2.3],[-2.12,-2.6],[-2.08,2.9],[-2.04,-3.3],[-2,3.8],[-1.96,-4.4],[-1.92,5.2],[-1.88,-6.2],[-1.84,7.5],[-1.8,-9],[-1.76,11],[-1.72,-11],[-1.68,11],[-1.64,-11],[-1.6,11],[-1.56,-11],[-1.52,11],[-1.48,-11],[-1.44,11],[-1.4,-11],[-1.36,11],[-1.32,-11],[-1.28,11],[-1.24,-11],[-1.2,11],[-1.16,-11],[-1.12,11],[-1.08,-11],[-1.04,11],[-1,-11],[-0.96,11],[-0.92,-11],[-0.88,11],[-0.84,-11],[-0.8,11],[-0.76,-11],[-0.72,11],[-0.68,-11],[-0.64,11],[-0.6,-11],[-0.56,11],[-0.52,-11],[-0.48,11],[-0.44,-11],[-0.4,11],[-0.36,-11],[-0.32,11],[-0.28,-9.5],[-0.24,8],[-0.2,-6.8],[-0.16,5.8],[-0.12,-5],[-0.08,4.3],[-0.04,-3.8],[0,3.4],[0.04,-3],[0.08,2.7],[0.12,-2.4],[0.16,2.2],[0.2,-2],[0.24,1.9],[0.28,-1.8],[0.32,1.7],[0.36,-1.6],[0.4,1.5],[0.44,-1.45],[0.48,1.4],[0.52,-1.35],[0.56,1.3],[0.6,-1.3],[0.64,1.25],[0.68,-1.2],[0.72,1.2],[0.76,-1.15],[0.8,1.15],[0.84,-1.1],[0.88,1.1],[0.92,-1.1],[0.96,1.05],[1,-1]];
const jN4 = [[-3,-1],[-2.965,1.2],[-2.93,-1.2],[-2.895,1.2],[-2.86,-1.25],[-2.825,1.25],[-2.79,-1.25],[-2.755,1.3],[-2.72,-1.3],[-2.685,1.3],[-2.65,-1.35],[-2.615,1.35],[-2.58,-1.4],[-2.545,1.4],[-2.51,-1.45],[-2.475,1.5],[-2.44,-1.55],[-2.405,1.6],[-2.37,-1.7],[-2.335,1.8],[-2.3,-1.9],[-2.265,2],[-2.23,-2.15],[-2.195,2.3],[-2.16,-2.5],[-2.125,2.8],[-2.09,-3.1],[-2.06,3.5],[-2.03,-3.9],[-2,4.4],[-1.97,-5],[-1.94,5.8],[-1.91,-6.6],[-1.885,7.4],[-1.86,-8.2],[-1.835,9],[-1.81,-9.8],[-1.785,10.5],[-1.76,-11],[-1.73,11],[-1.7,-11],[-1.67,11],[-1.64,-11],[-1.61,11],[-1.58,-11],[-1.55,11],[-1.52,-11],[-1.49,11],[-1.46,-11],[-1.43,11],[-1.4,-11],[-1.37,11],[-1.34,-11],[-1.31,11],[-1.28,-11],[-1.25,11],[-1.22,-11],[-1.19,11],[-1.16,-11],[-1.13,11],[-1.1,-11],[-1.07,11],[-1.04,-11],[-1.01,11],[-0.98,-11],[-0.95,11],[-0.92,-11],[-0.89,11],[-0.86,-11],[-0.83,11],[-0.8,-11],[-0.77,11],[-0.74,-11],[-0.71,11],[-0.68,-11],[-0.65,11],[-0.62,-11],[-0.59,11],[-0.56,-11],[-0.53,11],[-0.5,-11],[-0.47,11],[-0.44,-11],[-0.41,11],[-0.38,-11],[-0.35,11],[-0.32,-11],[-0.29,11],[-0.26,-11],[-0.235,9],[-0.21,-8],[-0.185,7.4],[-0.16,-6.8],[-0.135,6.2],[-0.11,-5.7],[-0.085,5.2],[-0.06,-4.8],[-0.03,4.4],[0,-4.1],[0.03,3.8],[0.065,-3.5],[0.1,3.2],[0.135,-3],[0.17,2.8],[0.205,-2.6],[0.24,2.5],[0.275,-2.4],[0.31,2.3],[0.345,-2.2],[0.38,2.1],[0.415,-2],[0.45,1.9],[0.485,-1.85],[0.52,1.8],[0.555,-1.7],[0.59,1.65],[0.625,-1.6],[0.66,1.55],[0.695,-1.5],[0.73,1.45],[0.765,-1.4],[0.8,1.35],[0.835,-1.3],[0.87,1.25],[0.905,-1.2],[0.94,1.2],[0.97,-1.15],[1,1.1]];

const xMajor = [-3, -2, -1, 0, 1];
const colors = ["#5E81B5", "#E19C24", "#8FB032", "#EB6235"];

const panels = [
  {id:"a", data:[aN1,aN2,aN3,aN4], sigma:0, sw:1.9, frame:[48,2,339,154], xr:[50,332.8], yd:[-20,30], yr:[133.3,12.4], clip:[-25.2,31.3], yMajor:[-20,-10,0,10,20,30], yMinor:2, leg:[348,357,362,[76,87,98,108]], xv:"x", xt:[191.7,185], ylab:"Re", arg:"x", ylx:10, cap:[192,204]},
  {id:"b", data:[bN1,bN2,bN3,bN4], sigma:0, sw:1.9, frame:[453.3,2,743.3,154], xr:[457.7,737.7], yd:[-60,80], yr:[146.7,13.3], clip:[-60.2,85], yMajor:[-60,-40,-20,0,20,40,60,80], yMinor:5, leg:[751.7,761.7,766,[76,86.7,97.7,108.3]], xv:"x", xt:[596.7,185], ylab:"Im", arg:"x", ylx:414, cap:[597,204]},
  {id:"c", data:[cN1,cN2,cN3,cN4], sigma:1, sw:1.9, frame:[45,209.3,316,352.7], xr:[50,314], yd:[-20,20], yr:[331,226.7], clip:[-25.8,24.5], yMajor:[-20,-10,0,10,20], yMinor:2, leg:[328,338,343,[280,290.7,300.7,309]], xv:"t", xt:[180,378], ylab:"Re", arg:"t", ylx:10, cap:[192,401]},
  {id:"d", data:[dN1,dN2,dN3,dN4], sigma:1, sw:1.9, frame:[446.7,208.3,726,351.7], xr:[451.7,720], yd:[-20,20], yr:[330,219], clip:[-26.2,21.4], yMajor:[-20,-10,0,10,20], yMinor:2, leg:[733.3,743.3,748,[280,290.7,299.3,308.3]], xv:"t", xt:[590,378], ylab:"Im", arg:"t", ylx:414, cap:[597,401]},
  {id:"e", data:[eN1,eN2,eN3,eN4], sigma:2, sw:2.1, frame:[50,408.3,320.7,548.3], xr:[53.3,314], yd:[-20,20], yr:[536.7,420], clip:[-22,22.9], yMajor:[-20,-10,0,10,20], yMinor:2, leg:[328.3,338.3,343,[476,486,496,506.7]], xv:"t", xt:[181.7,577], ylab:"Re", arg:"t", ylx:10, cap:[190,597]},
  {id:"f", data:[fN1,fN2,fN3,fN4], sigma:2, sw:2.1, frame:[453.3,405,725.7,548.3], xr:[455,719], yd:[-20,20], yr:[535.7,419], clip:[-22.6,23.4], yMajor:[-20,-10,0,10,20], yMinor:2, leg:[733.3,743.3,748,[476,485,496,506.7]], xv:"t", xt:[588.3,577], ylab:"Im", arg:"t", ylx:414, cap:[596,597]},
  {id:"g", data:[gN1,gN2,gN3,gN4], sigma:3, sw:2.1, frame:[43.3,622.7,321.7,765], xr:[49.3,315], yd:[-10,10], yr:[755,631.7], clip:[-10.7,10.6], yMajor:[-10,-5,0,5,10], yMinor:1, leg:[328.3,338.3,343,[692.7,703.3,713.3,723.3]], xv:"t", xt:[181.7,795], ylab:"Re", arg:"t", ylx:10, cap:[190,813]},
  {id:"h", data:[hN1,hN2,hN3,hN4], sigma:3, sw:2.1, frame:[453.3,622.7,730,765], xr:[456.7,724.3], yd:[-10,10], yr:[755,633.3], clip:[-10.7,10.4], yMajor:[-10,-5,0,5,10], yMinor:1, leg:[738.3,748.3,753,[693.3,702.7,713.3,723.3]], xv:"t", xt:[591.7,795], ylab:"Im", arg:"t", ylx:414, cap:[598,813]},
  {id:"i", data:[iN1,iN2,iN3,iN4], sigma:4, sw:2.8, frame:[43.3,819.3,320.7,961.7], xr:[49.3,315], yd:[-10,10], yr:[956,825], clip:[-9.8,10], yMajor:[-10,-5,0,5,10], yMinor:1, leg:[328.3,338.3,343,[888.3,898.3,908.3,918.3]], xv:"t", xt:[181.7,986], ylab:"Re", arg:"t", ylx:10, cap:null},
  {id:"j", data:[jN1,jN2,jN3,jN4], sigma:4, sw:2.8, frame:[453.3,819.3,730,961.7], xr:[457.7,725], yd:[-10,10], yr:[953.3,826.7], clip:[-10.2,10.3], yMajor:[-10,-5,0,5,10], yMinor:1, leg:[738.3,748.3,753,[888.3,898.3,908.3,919.3]], xv:"t", xt:[594.3,986], ylab:"Im", arg:"t", ylx:414, cap:null}
];

const svg = d3.select("#fig");
const tickFont = "'Liberation Sans', Arial, sans-serif";
const frameCol = "#5a5a5a";

function styleTicks(sel) {
  sel.select(".domain").remove();
  sel.attr("color", frameCol);
  sel.selectAll("line").attr("stroke-width", 0.9);
  sel.selectAll("text")
    .attr("fill", "#222")
    .style("font-family", tickFont)
    .style("font-size", "11px")
    .style("font-weight", "bold");
}

function minorTicks(lo, hi, step, majors) {
  const out = [];
  for (let v = Math.ceil(lo / step) * step; v <= hi + 1e-9; v += step) {
    const r = Math.round(v * 1000) / 1000;
    if (!majors.some(m => Math.abs(m - r) < 1e-6)) out.push(r);
  }
  return out;
}

panels.forEach(p => {
  const [L, T, R, B] = p.frame;
  const x = d3.scaleLinear().domain([-3, 1]).range(p.xr);
  const y = d3.scaleLinear().domain(p.yd).range(p.yr);
  const g = svg.append("g").attr("class", "panel-" + p.id);

  g.append("clipPath").attr("id", "clip-" + p.id)
    .append("rect")
    .attr("x", L).attr("y", y(p.clip[1]))
    .attr("width", R - L).attr("height", y(p.clip[0]) - y(p.clip[1]));

  const line = d3.line()
    .defined(d => d !== null)
    .x(d => x(d[0]))
    .y(d => y(d[1]))
    .curve(d3.curveMonotoneX);

  g.append("g").attr("clip-path", `url(#clip-${p.id})`)
    .selectAll("path").data(p.data).join("path")
    .attr("d", line)
    .attr("fill", "none")
    .attr("stroke", (d, i) => colors[i])
    .attr("stroke-width", p.sw)
    .attr("stroke-linejoin", "round");

  // frame
  g.append("rect")
    .attr("x", L).attr("y", T).attr("width", R - L).attr("height", B - T)
    .attr("fill", "none").attr("stroke", frameCol).attr("stroke-width", 1);

  const xMin = minorTicks(x.invert(L), x.invert(R), 0.2, xMajor);
  const yMin = minorTicks(y.invert(B), y.invert(T), p.yMinor, p.yMajor);

  // bottom / top
  g.append("g").attr("transform", `translate(0,${B})`)
    .call(d3.axisBottom(x).tickValues(xMajor).tickSizeInner(-4).tickSizeOuter(0).tickPadding(4).tickFormat(d3.format("d")))
    .call(styleTicks);
  g.append("g").attr("transform", `translate(0,${B})`)
    .call(d3.axisBottom(x).tickValues(xMin).tickSizeInner(-2.2).tickSizeOuter(0).tickFormat(""))
    .call(styleTicks);
  g.append("g").attr("transform", `translate(0,${T})`)
    .call(d3.axisTop(x).tickValues(xMajor).tickSizeInner(-4).tickSizeOuter(0).tickFormat(""))
    .call(styleTicks);
  g.append("g").attr("transform", `translate(0,${T})`)
    .call(d3.axisTop(x).tickValues(xMin).tickSizeInner(-2.2).tickSizeOuter(0).tickFormat(""))
    .call(styleTicks);

  // left / right
  g.append("g").attr("transform", `translate(${L},0)`)
    .call(d3.axisLeft(y).tickValues(p.yMajor).tickSizeInner(-4).tickSizeOuter(0).tickPadding(7).tickFormat(d3.format("d")))
    .call(styleTicks);
  g.append("g").attr("transform", `translate(${L},0)`)
    .call(d3.axisLeft(y).tickValues(yMin).tickSizeInner(-2.2).tickSizeOuter(0).tickFormat(""))
    .call(styleTicks);
  g.append("g").attr("transform", `translate(${R},0)`)
    .call(d3.axisRight(y).tickValues(p.yMajor).tickSizeInner(-4).tickSizeOuter(0).tickFormat(""))
    .call(styleTicks);
  g.append("g").attr("transform", `translate(${R},0)`)
    .call(d3.axisRight(y).tickValues(yMin).tickSizeInner(-2.2).tickSizeOuter(0).tickFormat(""))
    .call(styleTicks);

  // x title
  g.append("text")
    .attr("x", p.xt[0]).attr("y", p.xt[1])
    .attr("text-anchor", "middle")
    .style("font-family", tickFont).style("font-size", "12.5px")
    .style("font-weight", "bold").style("font-style", "italic")
    .attr("fill", "#222")
    .text(p.xv);

  // y title, e.g. Re(q(x, 1))
  const yc = (T + B) / 2;
  const yl = g.append("text")
    .attr("transform", `translate(${p.ylx},${yc}) rotate(-90)`)
    .attr("text-anchor", "middle")
    .attr("dy", "0.35em")
    .style("font-family", tickFont).style("font-size", "11.5px").style("font-weight", "bold")
    .attr("fill", "#222");
  yl.append("tspan").text(p.ylab + "(");
  yl.append("tspan").style("font-style", "italic").text("q");
  if (p.arg === "x") {
    yl.append("tspan").text("(");
    yl.append("tspan").style("font-style", "italic").text("x");
    yl.append("tspan").text(", 1))");
  } else {
    yl.append("tspan").text("(1, ");
    yl.append("tspan").style("font-style", "italic").text("t");
    yl.append("tspan").text("))");
  }

  // legend
  const lg = g.append("g");
  p.leg[3].forEach((ry, i) => {
    lg.append("line")
      .attr("x1", p.leg[0]).attr("x2", p.leg[1]).attr("y1", ry).attr("y2", ry)
      .attr("stroke", colors[i]).attr("stroke-width", 1.4);
    lg.append("text")
      .attr("x", p.leg[2]).attr("y", ry).attr("dy", "0.35em")
      .style("font-family", tickFont).style("font-size", "6.5px")
      .attr("fill", "#666")
      .text(p.sigma === 0 ? `n = ${i + 1}` : `σ = ${p.sigma}, n = ${i + 1}`);
  });

  // caption under the panel
  if (p.cap) {
    const ct = g.append("text")
      .attr("x", p.cap[0]).attr("y", p.cap[1])
      .attr("text-anchor", "middle")
      .style("font-family", "'Liberation Serif', 'DejaVu Serif', serif")
      .style("font-size", "13px")
      .attr("fill", "#222");
    ct.append("tspan").text(`(${p.id}) `);
    ct.append("tspan").style("font-style", "italic").text("σ");
    ct.append("tspan").text(` = ${p.sigma}`);
  }
});
</script>
</body>
</html>
